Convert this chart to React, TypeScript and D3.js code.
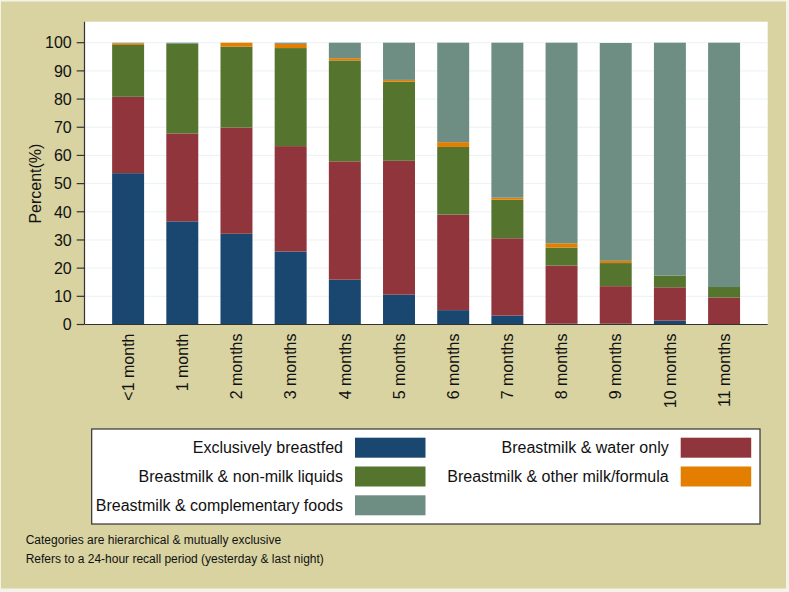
import React from "react";
import * as d3 from "d3";

// age groups along the x axis
const categories = [
  "<1 month",
  "1 month",
  "2 months",
  "3 months",
  "4 months",
  "5 months",
  "6 months",
  "7 months",
  "8 months",
  "9 months",
  "10 months",
  "11 months",
];

const seriesNames = [
  "Exclusively breastfed",
  "Breastmilk & water only",
  "Breastmilk & non-milk liquids",
  "Breastmilk & other milk/formula",
  "Breastmilk & complementary foods",
];
const seriesColors = ["#1A476F", "#90353B", "#55752F", "#E37E00", "#6E8E84"];

// percent values, stacked bottom to top
const exclusive = [53.7, 36.6, 32.2, 25.9, 15.9, 10.6, 5.1, 3.2, 0.3, 0.3, 1.4, 0];
const waterOnly = [27.1, 31.2, 37.7, 37.4, 42.0, 47.5, 33.9, 27.4, 20.6, 13.3, 11.8, 9.6];
const nonMilk = [18.4, 31.8, 28.7, 34.8, 35.8, 28.1, 24.0, 13.7, 6.4, 8.2, 4.2, 3.7];
const otherMilk = [0.6, 0, 1.4, 1.5, 0.8, 0.6, 1.7, 0.7, 1.5, 0.8, 0, 0];
const complementary = [0.2, 0.4, 0, 0.4, 5.5, 13.2, 35.3, 55.0, 71.2, 77.3, 82.6, 86.7];

const yTicks = [0, 10, 20, 30, 40, 50, 60, 70, 80, 90, 100];

const notes = [
  "Categories are hierarchical & mutually exclusive",
  "Refers to a 24-hour recall period (yesterday & last night)",
];

const W = 789;
const H = 592;
const font = "'Liberation Sans', Arial, Helvetica, sans-serif";

export default function App() {
  const plot = { left: 84.5, right: 767.7, top: 21.7, bottom: 324.5 };

  const x = d3
    .scaleBand()
    .domain(categories)
    .range([plot.left, plot.right])
    .paddingInner(0.41)
    .paddingOuter(0.51);

  const y = d3.scaleLinear().domain([0, 100]).range([plot.bottom, 42.7]);

  const table = categories.map((c, i) => {
    const row: any = { cat: c };
    row[seriesNames[0]] = exclusive[i];
    row[seriesNames[1]] = waterOnly[i];
    row[seriesNames[2]] = nonMilk[i];
    row[seriesNames[3]] = otherMilk[i];
    row[seriesNames[4]] = complementary[i];
    return row;
  });

  const stacked = d3.stack().keys(seriesNames)(table);

  const legend = { x: 91.7, y: 429, w: 668.3, h: 95 };

  return (
    <svg
      width={W}
      height={H}
      style={{ position: "absolute", left: 0, top: 0, fontFamily: font }}
    >
      <rect x={0} y={0} width={W} height={H} fill="#F4F3EA" />
      <rect x={1} y={1.5} width={785} height={587} fill="#D8D3A1" />
      <rect
        x={plot.left}
        y={plot.top}
        width={plot.right - plot.left}
        height={plot.bottom - plot.top}
        fill="#ffffff"
      />

      {/* gridlines */}
      {yTicks.map((t) => (
        <line
          key={"g" + t}
          x1={plot.left}
          x2={plot.right}
          y1={y(t)}
          y2={y(t)}
          stroke="#EAF2F3"
          strokeWidth={1}
        />
      ))}

      {/* stacked bars */}
      {stacked.map((s, si) => (
        <g key={s.key} fill={seriesColors[si]}>
          {s.map((d, i) =>
            d[1] - d[0] > 0 ? (
              <rect
                key={i}
                x={x(categories[i])}
                y={y(d[1])}
                width={x.bandwidth()}
                height={y(d[0]) - y(d[1])}
              />
            ) : null
          )}
        </g>
      ))}

      {/* axes */}
      <line x1={plot.left} x2={plot.left} y1={plot.top} y2={plot.bottom} stroke="#333" strokeWidth={1.2} />
      <line x1={plot.left} x2={plot.right} y1={plot.bottom} y2={plot.bottom} stroke="#333" strokeWidth={1.2} />
      {yTicks.map((t) => (
        <g key={"t" + t}>
          <line x1={76.7} x2={plot.left} y1={y(t)} y2={y(t)} stroke="#333" strokeWidth={1.2} />
          <text x={71.7} y={y(t)} dy="0.36em" textAnchor="end" fontSize={16} fill="#111">
            {t}
          </text>
        </g>
      ))}
      <text
        transform={`translate(35,${(plot.bottom + 42.7) / 2}) rotate(-90)`}
        dy="0.36em"
        textAnchor="middle"
        fontSize={16}
        fill="#111"
      >
        Percent(%)
      </text>

      {categories.map((c) => (
        <text
          key={c}
          transform={`translate(${(x(c) as number) + x.bandwidth() / 2},333.5) rotate(-90)`}
          dy="0.36em"
          textAnchor="end"
          fontSize={16}
          fill="#111"
        >
          {c}
        </text>
      ))}

      {/* legend */}
      <rect
        x={legend.x}
        y={legend.y}
        width={legend.w}
        height={legend.h}
        fill="#ffffff"
        stroke="#333"
        strokeWidth={1.2}
      />
      {seriesNames.map((name, i) => {
        const col = i % 2;
        const row = Math.floor(i / 2);
        const sx = col === 0 ? 355 : 680.7;
        const sy = 437.7 + row * 28.8;
        return (
          <g key={name}>
            <rect x={sx} y={sy} width={70.5} height={20} fill={seriesColors[i]} />
            <text
              x={sx - 12}
              y={sy + 10}
              dy="0.36em"
              textAnchor="end"
              fontSize={16}
              fill="#111"
            >
              {name}
            </text>
          </g>
        );
      })}

      {notes.map((n, i) => (
        <text key={n} x={25.7} y={544 + i * 18.5} fontSize={12} fill="#111">
          {n}
        </text>
      ))}
    </svg>
  );
}
